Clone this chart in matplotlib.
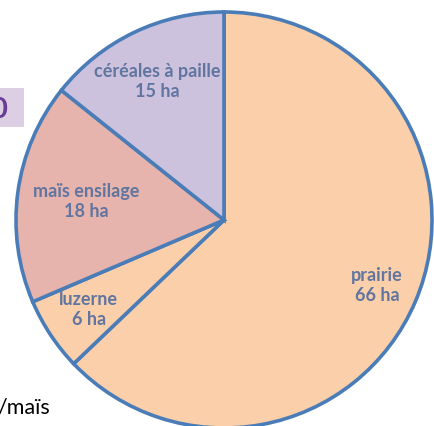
import numpy as np
import matplotlib
matplotlib.use("Agg")
import matplotlib.pyplot as plt

# Data
categories = ["prairie", "luzerne", "maïs ensilage", "céréales à paille"]
surfaces_ha = [66, 6, 18, 15]
colors = ["#FBCFAA", "#FBCFAA", "#E6B4AC", "#CDC2DD"]
label_dist = [0.80, 0.78, 0.67, 0.74]

W, H = 435, 426
fig = plt.figure(figsize=(W / 100, H / 100), dpi=100)
ax = fig.add_axes([0, 0, 1, 1])

cx, cy, R = 224, H - 220, 208
wedges, _ = ax.pie(surfaces_ha, colors=colors, startangle=90, counterclock=False,
                   center=(cx, cy), radius=R, frame=True,
                   wedgeprops=dict(edgecolor="#4A7DB8", linewidth=2.6))
ax.set_xlim(0, W)
ax.set_ylim(0, H)
ax.set_aspect("auto")
ax.axis("off")

txt_color = "#6075A0"
for w, cat, v, d in zip(wedges, categories, surfaces_ha, label_dist):
    mid = np.deg2rad((w.theta1 + w.theta2) / 2)
    x = cx + d * R * np.cos(mid)
    y = cy + d * R * np.sin(mid)
    ax.text(x, y, f"{cat}\n{v} ha", ha="center", va="center", color=txt_color,
            fontsize=13, fontweight="bold", family="Lato", linespacing=1.25)

# cropped slide elements
ax.add_patch(plt.Rectangle((0, H - 127), 24, 39, facecolor="#DCCFE4", edgecolor="none"))
ax.text(-10, H - 110, "0", ha="left", va="center", color="#6A3C95", fontsize=21,
        fontweight="bold", family="Lato")
ax.text(-3, H - 408, "/maïs", ha="left", va="center", color="black", fontsize=15.5,
        family="Lato")

fig.savefig("out.png", dpi=100)
